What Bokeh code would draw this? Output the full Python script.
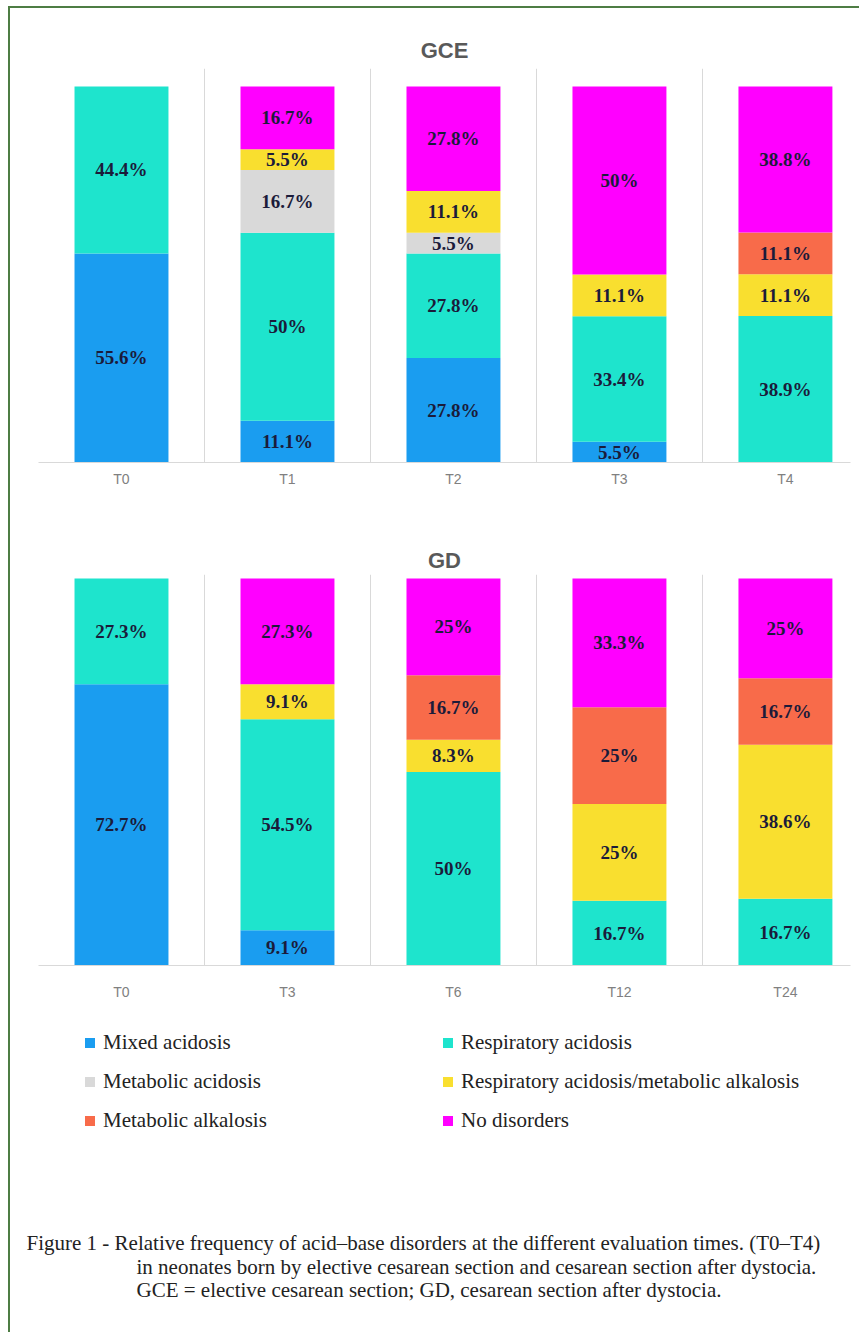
import numpy as np
from bokeh.plotting import figure
from bokeh.models import Range1d, FixedTicker, ColumnDataSource, Legend, LegendItem, Label
from bokeh.layouts import column
from bokeh.embed import file_html
from bokeh.resources import INLINE
from bokeh.core.properties import value

series = ["Mixed acidosis", "Respiratory acidosis", "Metabolic acidosis",
          "Respiratory acidosis/metabolic alkalosis", "Metabolic alkalosis", "No disorders"]
colors = ["#1a9df0", "#1ee4cd", "#d9d9d9", "#f9df2f", "#f86b4a", "#ff00ff"]

# GCE (elective cesarean section)
gce_times = ["T0", "T1", "T2", "T3", "T4"]
gce_mixed = [55.6, 11.1, 27.8, 5.5, 0]
gce_resp = [44.4, 50, 27.8, 33.4, 38.9]
gce_metac = [0, 16.7, 5.5, 0, 0]
gce_rama = [0, 5.5, 11.1, 11.1, 11.1]
gce_metalk = [0, 0, 0, 0, 11.1]
gce_none = [0, 16.7, 27.8, 50, 38.8]

# GD (cesarean section after dystocia)
gd_times = ["T0", "T3", "T6", "T12", "T24"]
gd_mixed = [72.7, 9.1, 0, 0, 0]
gd_resp = [27.3, 54.5, 50, 16.7, 16.7]
gd_metac = [0, 0, 0, 0, 0]
gd_rama = [0, 9.1, 8.3, 25, 38.6]
gd_metalk = [0, 0, 16.7, 25, 16.7]
gd_none = [0, 27.3, 25, 33.3, 25]

caption = [
    "Figure 1 - Relative frequency of acid\u2013base disorders at the different evaluation times. (T0\u2013T4)",
    "in neonates born by elective cesarean section and cesarean section after dystocia.",
    "GCE = elective cesarean section; GD, cesarean section after dystocia.",
]

W = 851


def make_chart(title_text, cats, series_vals, height, top, bottom, y_end, tick_standoff, title_standoff):
    n = len(cats)
    x = np.arange(n)
    vals = np.array(series_vals, dtype=float)
    totals = vals.sum(axis=0)
    pct = vals / totals * 100
    data = {"x": x}
    for k, name in enumerate(series):
        data[name] = pct[k]
    src = ColumnDataSource(data)
    p = figure(width=W, height=height, x_range=Range1d(-0.5, 4.392), y_range=Range1d(0, y_end),
               output_backend="svg", toolbar_location=None, y_axis_location=None,
               min_border_left=28, min_border_right=11, min_border_top=top, min_border_bottom=bottom)
    p.vbar_stack(series, x="x", width=0.566, source=src, fill_color=colors, line_color=None)

    lx, ly, lt = [], [], []
    cum = np.cumsum(pct, axis=0)
    for k in range(len(series)):
        for i in range(n):
            if vals[k, i] > 0:
                lx.append(x[i])
                ly.append(cum[k, i] - pct[k, i] / 2)
                lt.append(f"{vals[k, i]:g}%")
    p.text(x=lx, y=ly, text=lt, text_align="center", text_baseline="middle",
           text_font=value("Liberation Serif"), text_font_style="bold",
           text_font_size="19px", text_color="#1b1b3a")

    p.title.text = title_text
    p.title.align = "center"
    p.title.text_font = "Liberation Sans"
    p.title.text_font_size = "22px"
    p.title.text_font_style = "bold"
    p.title.text_color = "#595959"
    p.title.standoff = title_standoff

    p.ygrid.visible = False
    p.xgrid.ticker = FixedTicker(ticks=list(x[:-1] + 0.5))
    p.xgrid.grid_line_color = "#d9d9d9"
    p.xaxis.ticker = FixedTicker(ticks=list(x))
    p.xaxis.major_label_overrides = {int(i): c for i, c in zip(x, cats)}
    p.xaxis.axis_line_color = "#d9d9d9"
    p.xaxis.major_tick_line_color = None
    p.xaxis.minor_tick_line_color = None
    p.xaxis.major_tick_out = 0
    p.xaxis.major_label_standoff = tick_standoff
    p.xaxis.major_label_text_font = "Liberation Sans"
    p.xaxis.major_label_text_font_size = "14px"
    p.xaxis.major_label_text_color = "#808080"
    p.outline_line_color = None
    return p


pA = make_chart("GCE", gce_times,
                [gce_mixed, gce_resp, gce_metac, gce_rama, gce_metalk, gce_none],
                height=500, top=60, bottom=46, y_end=104.79, tick_standoff=8, title_standoff=11)
pB = make_chart("GD", gd_times,
                [gd_mixed, gd_resp, gd_metac, gd_rama, gd_metalk, gd_none],
                height=504, top=66, bottom=47, y_end=101.03, tick_standoff=18, title_standoff=4)

# legend + caption panel
HC = 322
pC = figure(width=W, height=HC, x_range=Range1d(0, 1), y_range=Range1d(0, 1),
            output_backend="svg", toolbar_location=None,
            x_axis_location=None, y_axis_location=None, frame_align=False,
            min_border_left=0, min_border_right=0, min_border_top=0, min_border_bottom=0)
pC.grid.visible = False
pC.outline_line_color = None

items = []
for name, c in zip(series, colors):
    # legend swatch proxy, positioned outside the visible range
    r = pC.scatter(x=[-10], y=[-10], marker="square", fill_color=c, line_color=None)
    items.append(LegendItem(label=name, renderers=[r]))


def add_legend(its, loc):
    lg = Legend(items=its, location=loc, padding=0, margin=0, spacing=14,
                glyph_width=25, glyph_height=25, label_height=25, label_standoff=1,
                border_line_alpha=0, background_fill_alpha=0,
                label_text_font="Liberation Serif", label_text_font_size="21px",
                label_text_color="#222222")
    pC.add_layout(lg)


add_legend([items[0], items[2], items[4]], (67, 201))
add_legend([items[1], items[3], items[5]], (425, 201))

for txt, xs, ys in zip(caption, [16, 126, 126], [92, 68, 45]):
    pC.add_layout(Label(x=xs, y=ys, x_units="screen", y_units="screen", text=txt,
                        text_font="Liberation Serif", text_font_size="21px",
                        text_color="#222222", text_baseline="middle"))

layout = column(pA, pB, pC, spacing=0,
                styles={"margin-left": "10px", "margin-top": "8px",
                        "box-shadow": "-2px -2px 0 0 #4e7d44"})

open("out.html", "w").write(file_html(layout, INLINE))
